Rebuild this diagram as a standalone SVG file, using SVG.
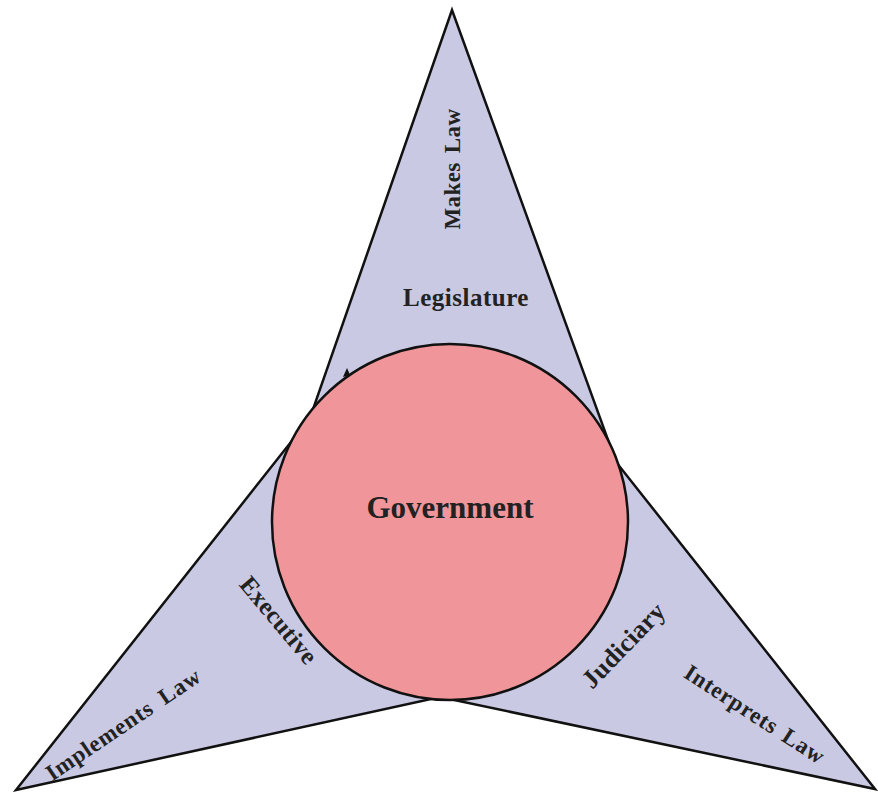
<svg xmlns="http://www.w3.org/2000/svg" width="878" height="794" viewBox="0 0 878 794">
<style>
.arm{fill:#c9c9e3;stroke:#111;stroke-width:2.5;stroke-linejoin:miter}
.core{fill:#f0969a;stroke:#111;stroke-width:2.5}
.lbl{font-family:"Liberation Serif","Times New Roman",serif;font-weight:bold;fill:#222;text-anchor:middle}
</style>
<rect width="878" height="794" fill="#ffffff"/>
<g id="branches">
<polygon class="arm" points="452,10 616,462 875,789 440,697 16,790 310,418"/>
</g>
<g id="government">
<circle class="core" cx="450" cy="522" r="178"/>
<path d="M343,377 L347,368 L350,375 Z" fill="#111"/>
<text class="lbl" x="450" y="518" font-size="31">Government</text>
</g>
<g id="legislature">
<text class="lbl" x="466" y="306" font-size="25" letter-spacing="0.5">Legislature</text>
<text class="lbl" transform="translate(452,169) rotate(-90)" dy="0.35em" font-size="23" letter-spacing="0.4" word-spacing="3">Makes Law</text>
</g>
<g id="executive">
<text class="lbl" transform="translate(279,620) rotate(50)" dy="0.35em" font-size="25" letter-spacing="0.2">Executive</text>
<text class="lbl" transform="translate(123,724) rotate(-34)" dy="0.35em" font-size="23" letter-spacing="0.8" word-spacing="5">Implements Law</text>
</g>
<g id="judiciary">
<text class="lbl" transform="translate(623,645) rotate(-46)" dy="0.35em" font-size="26" letter-spacing="0.2">Judiciary</text>
<text class="lbl" transform="translate(755,714) rotate(33)" dy="0.35em" font-size="23" letter-spacing="0.8" word-spacing="3">Interprets Law</text>
</g>
<g id="connectors"></g>
</svg>
